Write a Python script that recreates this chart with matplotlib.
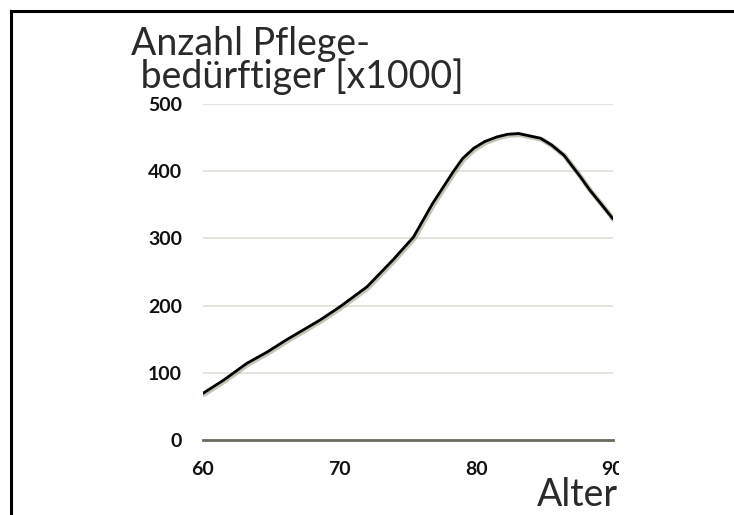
import matplotlib
matplotlib.use("Agg")
import matplotlib.pyplot as plt
import matplotlib.patheffects as pe
from matplotlib.lines import Line2D
from matplotlib.transforms import Bbox

# Data
alter = [60.0, 61.5, 63.2, 64.7, 66.1, 68.6, 70.0, 72.0, 73.9, 75.4, 76.1, 76.8,
         77.6, 78.3, 79.0, 79.8, 80.6, 81.5, 82.3, 83.1, 84.7, 85.5, 86.4, 87.6,
         88.3, 89.1, 90.0]
pflege = [69.5, 89, 114, 131, 149, 179, 198, 228, 268, 302, 327, 352,
          377, 399, 419, 434, 444, 451, 455, 456, 449, 439, 424, 392,
          372, 352, 329]
x_ticks = [60, 70, 80, 90]
y_ticks = [0, 100, 200, 300, 400, 500]
title_text = "Anzahl Pflege-\n bedürftiger [x1000]"
x_label = "Alter"

W, H = 734, 515
fig = plt.figure(figsize=(W / 100, H / 100), dpi=100)
fig.patch.set_facecolor("white")

# frame (top + left only)
fig.add_artist(Line2D([11 / W, 11 / W], [0, 1 - 11 / H], transform=fig.transFigure,
                      color="black", lw=2.2, solid_capstyle="projecting"))
fig.add_artist(Line2D([11 / W, 1], [1 - 11 / H, 1 - 11 / H], transform=fig.transFigure,
                      color="black", lw=2.2, solid_capstyle="projecting"))

ax = fig.add_axes([203 / W, 1 - 440 / H, (613 - 203) / W, (440 - 104) / H])
ax.set_xlim(60, 90)
ax.set_ylim(0, 500)
for s in ax.spines.values():
    s.set_visible(False)

for yv in y_ticks[1:]:
    ax.axhline(yv, color="#dcdcd2", lw=1.1, zorder=1)
ax.axhline(0, color="#6b6b5e", lw=2.0, zorder=2, clip_on=False)

ax.plot(alter, pflege, color="black", lw=2.0, solid_joinstyle="round",
        solid_capstyle="round", zorder=3,
        path_effects=[pe.SimpleLineShadow(offset=(0.8, -0.8), shadow_color="#8a8a70", alpha=0.5, linewidth=3.5),
                      pe.Normal()])

tick_font = dict(family="Lato", weight="bold", size=14)
ax.set_xticks(x_ticks)
ax.set_yticks(y_ticks)
ax.set_xticklabels([str(v) for v in x_ticks], **tick_font)
ax.set_yticklabels([str(v) for v in y_ticks], **tick_font)
ax.tick_params(axis="x", length=0, pad=15, colors="#111111")
ax.tick_params(axis="y", length=0, pad=15, colors="#111111")

# clip the last x tick label like the reference
fig.canvas.draw()
last = ax.get_xticklabels()[-1]
last.set_clip_on(True)
last.set_clip_box(Bbox.from_extents(0, 0, 619, H))

title_font = dict(family="Lato", weight="normal", size=27, color="#2a2a2a")
fig.text(131 / W, 1 - 88 / H, title_text, ha="left", va="baseline",
         linespacing=0.86, **title_font)
fig.text(618 / W, 1 - 506 / H, x_label, ha="right", va="baseline", **title_font)

fig.savefig("out.png", dpi=100)
